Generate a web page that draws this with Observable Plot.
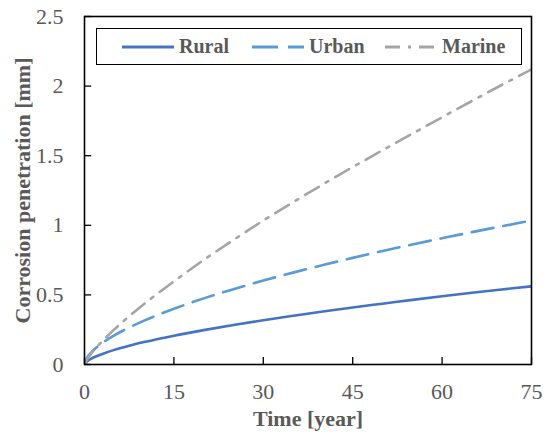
<!DOCTYPE html>
<html>
<head>
<meta charset="utf-8">
<script src="https://cdn.jsdelivr.net/npm/d3@7"></script>
<script src="https://cdn.jsdelivr.net/npm/@observablehq/plot@0.6"></script>
<style>
  html, body { margin: 0; padding: 0; background: #fff; }
  #wrap { position: relative; width: 550px; height: 445px; font-family: "Liberation Serif", "Times New Roman", serif; }
  #legend { position: absolute; left: 96px; top: 28px; width: 424px; height: 35px; border: 1.5px solid #000; background: #fff; }
  .item { position: absolute; top: 0; height: 35px; display: flex; align-items: center; font-weight: bold; font-size: 20px; color: #595959; }
  .item svg { margin-right: 5px; }
</style>
</head>
<body>
<div id="wrap">
  <div id="chart"></div>
  <div id="legend"></div>
</div>
<script>
// Time [year]
const years = [0, 0.5, 1, 2, 3, 5, 7.5, 10, 15, 20, 25, 30, 35, 40, 45, 50, 55, 60, 65, 70, 75];
// Corrosion penetration [mm]
const rural  = [0, 0.025, 0.039, 0.059, 0.076, 0.105, 0.135, 0.161, 0.207, 0.247, 0.284, 0.318, 0.350, 0.381, 0.410, 0.437, 0.464, 0.490, 0.515, 0.539, 0.562];
const urban  = [0, 0.054, 0.081, 0.122, 0.155, 0.209, 0.266, 0.315, 0.400, 0.475, 0.541, 0.603, 0.660, 0.714, 0.766, 0.815, 0.862, 0.907, 0.951, 0.993, 1.034];
const marine = [0, 0.041, 0.071, 0.123, 0.168, 0.252, 0.347, 0.435, 0.597, 0.751, 0.895, 1.034, 1.166, 1.294, 1.418, 1.539, 1.658, 1.776, 1.893, 2.008, 2.120];

const seriesNames = ["Rural", "Urban", "Marine"];
const seriesColors = ["#4472C4", "#5B9BD5", "#A5A5A5"];
const seriesDash = [null, "22,10", "16,8,3,8"];
const seriesValues = [rural, urban, marine];

const xTicks = [0, 15, 30, 45, 60, 75];
const yTicks = [0, 0.5, 1, 1.5, 2, 2.5];

const xLabel = "Time [year]";
const yLabel = "Corrosion penetration [mm]";

const series = seriesNames.map((name, i) => ({
  name, color: seriesColors[i], dash: seriesDash[i],
  data: years.map((t, j) => ({t, v: seriesValues[i][j]}))
}));

const fmt = d => String(d);
const font = '"Liberation Serif", "Times New Roman", serif';

const chart = Plot.plot({
  width: 550,
  height: 445,
  marginLeft: 84,
  marginRight: 19,
  marginTop: 16,
  marginBottom: 81,
  style: { fontFamily: font, background: "#fff", overflow: "visible" },
  x: { domain: [0, 75] },
  y: { domain: [0, 2.5] },
  marks: [
    ...series.map(s => Plot.line(s.data, {
      x: "t", y: "v", stroke: s.color, strokeWidth: 2.6,
      strokeDasharray: s.dash, curve: "monotone-x", clip: true
    })),
    // inward tick marks
    Plot.ruleY(yTicks, { y: d => d, x1: 0, x2: 1.2, stroke: "#000", strokeWidth: 1.3 }),
    Plot.ruleX(xTicks, { x: d => d, y1: 0, y2: 0.05, stroke: "#000", strokeWidth: 1.3 }),
    Plot.frame({ stroke: "#000", strokeWidth: 1.6 }),
    Plot.axisY({ ticks: yTicks, tickSize: 0, tickPadding: 21, tickFormat: fmt, fill: "#595959", fontSize: 22, label: null }),
    Plot.axisX({ ticks: xTicks, tickSize: 0, tickPadding: 19, tickFormat: fmt, fill: "#595959", fontSize: 22, label: null }),
    Plot.text([xLabel], { text: d => d, frameAnchor: "bottom", textAnchor: "middle", dy: 61, fontSize: 22, fontWeight: "bold", fill: "#595959" }),
    Plot.text([yLabel], { text: d => d, frameAnchor: "left", textAnchor: "middle", dx: -62, rotate: -90, fontSize: 22, fontWeight: "bold", fill: "#595959" })
  ]
});
document.getElementById("chart").appendChild(chart);

// Legend
const legend = document.getElementById("legend");
const itemLeft = [25, 155, 288];
series.forEach((s, i) => {
  const div = document.createElement("div");
  div.className = "item";
  div.style.left = itemLeft[i] + "px";
  const ns = "http://www.w3.org/2000/svg";
  const svg = document.createElementNS(ns, "svg");
  svg.setAttribute("width", 52);
  svg.setAttribute("height", 10);
  const line = document.createElementNS(ns, "line");
  line.setAttribute("x1", 0); line.setAttribute("x2", 52);
  line.setAttribute("y1", 5); line.setAttribute("y2", 5);
  line.setAttribute("stroke", s.color);
  line.setAttribute("stroke-width", 3);
  if (i === 1) line.setAttribute("stroke-dasharray", "26,10");
  if (i === 2) line.setAttribute("stroke-dasharray", "15,8,3,8");
  svg.appendChild(line);
  div.appendChild(svg);
  const span = document.createElement("span");
  span.textContent = s.name;
  div.appendChild(span);
  legend.appendChild(div);
});
</script>
</body>
</html>
